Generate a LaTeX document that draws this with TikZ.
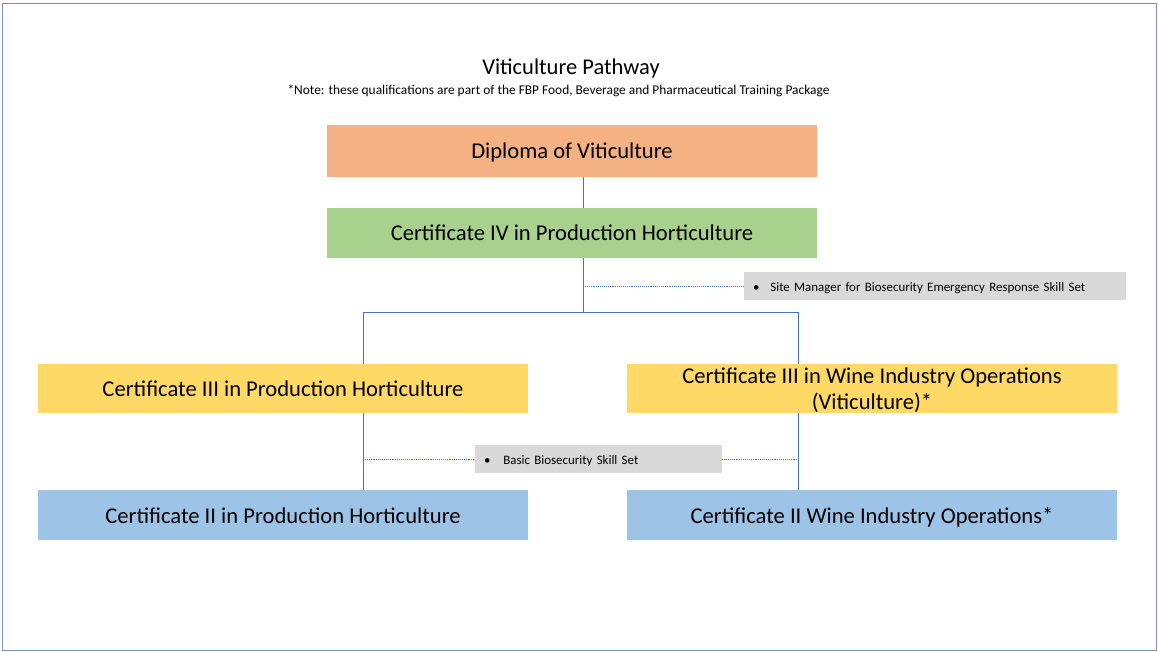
\documentclass[tikz,border=0pt]{standalone}
\usepackage{fontspec}
\setmainfont{Carlito}
\definecolor{cOrange}{HTML}{F4B183}
\definecolor{cGreen}{HTML}{A9D18E}
\definecolor{cYellow}{HTML}{FFD966}
\definecolor{cBlue}{HTML}{9DC3E6}
\definecolor{cGray}{HTML}{D9D9D9}
\definecolor{cLine}{HTML}{4472C4}
\definecolor{cFrame}{HTML}{7A92C2}
\begin{document}
\begin{tikzpicture}[x=1pt,y=-1pt,
  qual/.style={rectangle, minimum width=490pt, inner sep=0pt, align=center, text height=20pt, text depth=4pt, font=\fontsize{22.6}{26}\selectfont},
  skill/.style={rectangle, fill=cGray, inner sep=0pt, minimum height=28pt, text height=11pt, text depth=0pt, font=\fontsize{12.9}{15}\selectfont},
  conn/.style={draw=cLine, line width=0.9pt},
  dconn/.style={draw=cLine, line width=0.9pt, densely dotted}]
\useasboundingbox (0,0) rectangle (1159,652);
\draw[cFrame, line width=1pt] (2.5,3.5) rectangle (1156.5,650.5);
\node[font=\fontsize{22.5}{26}\selectfont] (title) at (571,68.5) {Viticulture Pathway};
\node[font=\fontsize{13.4}{15}\selectfont] (note) at (558.5,90.5) {*Note: these qualifications are part of the FBP Food, Beverage and Pharmaceutical Training Package};
\node[qual, fill=cOrange, minimum height=52pt] (dip) at (572,151) {Diploma of Viticulture};
\node[qual, fill=cGreen, minimum height=50pt] (c4) at (572,233) {Certificate IV in Production Horticulture};
\node[qual, fill=cYellow, minimum height=49pt] (c3a) at (283,388.5) {Certificate III in Production Horticulture};
\node[qual, fill=cYellow, minimum height=49pt, text height=45pt, text depth=3pt] (c3b) at (872,388.5) {Certificate III in Wine Industry Operations\\(Viticulture)*};
\node[qual, fill=cBlue, minimum height=50pt] (c2a) at (283,515) {Certificate II in Production Horticulture};
\node[qual, fill=cBlue, minimum height=50pt] (c2b) at (872,515) {Certificate II Wine Industry Operations*};
\node[skill, minimum width=382pt, text width=364pt, align=left] (s1) at (935,286) {\textbullet\hspace{11pt}Site Manager for Biosecurity Emergency Response Skill Set};
\node[skill, minimum width=247pt, text width=229pt, align=left] (s2) at (598.5,459) {\textbullet\hspace{13pt}Basic Biosecurity Skill Set};
\coordinate (trunk) at (583,312);
\coordinate (xL) at (363,312);
\coordinate (xR) at (798,312);
\coordinate (s1j) at (583,286);
\coordinate (s2l) at (363,459);
\coordinate (s2r) at (798,459);
\draw[conn] (dip.south -| trunk) -- (c4.north -| trunk);
\draw[conn] (c4.south -| trunk) -- (trunk);
\draw[conn] (xL) -- (xR);
\draw[conn] (xL) -- (c3a.north -| xL);
\draw[conn] (xR) -- (c3b.north -| xR);
\draw[conn] (c3a.south -| xL) -- (c2a.north -| xL);
\draw[conn] (c3b.south -| xR) -- (c2b.north -| xR);
\draw[dconn] (s1j) -- (s1.west);
\draw[dconn] (s2l) -- (s2.west);
\draw[dconn] (s2.east) -- (s2r);
\end{tikzpicture}
\end{document}
